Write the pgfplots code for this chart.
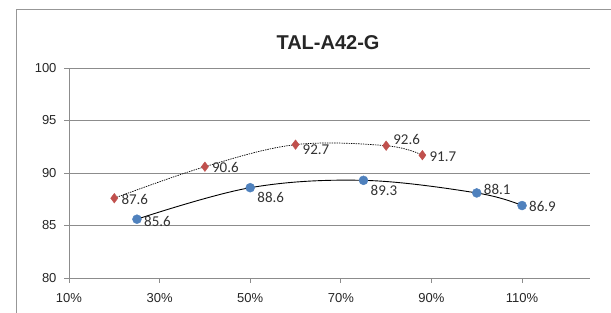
\documentclass[border=0pt]{standalone}
\usepackage{fontspec}
\setmainfont{Liberation Sans}
\newfontfamily\calib{Carlito}
\usepackage{pgfplots}
\usepackage{pgfplotstable}
\pgfplotsset{compat=1.18}
\definecolor{serblue}{HTML}{4F81BD}
\definecolor{serred}{HTML}{C0504D}
\definecolor{gridgray}{HTML}{8C8C8C}

\pgfplotstableread{
x y dy
25 85.6 -2
50 88.6 -10
75 89.3 -10
100 88.1 4
110 86.9 -1
}\bluedata

\pgfplotstableread{
x y dy
20 87.6 -1
40 90.6 -1
60 92.7 -5
80 92.6 6
88 91.7 -2
}\reddata

\begin{document}
\begin{tikzpicture}[x=1pt,y=1pt]
\path[use as bounding box] (0,0) rectangle (611,313);
\draw[gridgray!90, line width=0.8pt] (16,-20) rectangle (640,304);
\begin{axis}[
  at={(69pt,35pt)}, anchor=south west,
  scale only axis, width=521pt, height=210pt,
  xmin=10, xmax=125, ymin=80, ymax=100,
  xtick={10,30,50,70,90,110},
  ytick={80,85,90,95,100},
  axis lines*=left,
  axis line style={gridgray, line width=0.8pt},
  ymajorgrids, grid style={gridgray, line width=0.8pt},
  tick style={gridgray, line width=0.8pt},
  tick align=outside, major tick length=5pt,
  /pgf/number format/assume math mode=true,
  xticklabel={\pgfmathprintnumber{\tick}\%},
  tick label style={font=\fontsize{13}{15}\selectfont, text=black!85},
  xticklabel style={yshift=-7pt},
  yticklabel style={xshift=-4pt},
  clip=false,
]
\addplot[black, line width=0.7pt, smooth, tension=0.6, dash pattern=on 1.4pt off 1pt] table[x=x,y=y] {\reddata};
\addplot[black, line width=0.9pt, smooth, tension=0.6] table[x=x,y=y] {\bluedata};
\addplot[only marks, mark=diamond*, mark size=4.8pt, mark options={fill=serred, draw=serred},
  point meta=\thisrow{y},
  visualization depends on={\thisrow{dy} \as \dy},
  nodes near coords={\pgfmathprintnumber[fixed,precision=1,fixed zerofill]{\pgfplotspointmeta}},
  every node near coord/.append style={anchor=west, xshift=6pt, yshift=\dy, font=\calib\fontsize{15}{17}\selectfont, text=black!80, inner sep=1pt}
] table[x=x,y=y] {\reddata};
\addplot[only marks, mark=*, mark size=4.5pt, mark options={fill=serblue, draw=serblue},
  point meta=\thisrow{y},
  visualization depends on={\thisrow{dy} \as \dy},
  nodes near coords={\pgfmathprintnumber[fixed,precision=1,fixed zerofill]{\pgfplotspointmeta}},
  every node near coord/.append style={anchor=west, xshift=6pt, yshift=\dy, font=\calib\fontsize{15}{17}\selectfont, text=black!80, inner sep=1pt}
] table[x=x,y=y] {\bluedata};
\end{axis}
\node[font=\bfseries\fontsize{20}{24}\selectfont, text=black!85] at (328,270) {TAL-A42-G};
\end{tikzpicture}
\end{document}
